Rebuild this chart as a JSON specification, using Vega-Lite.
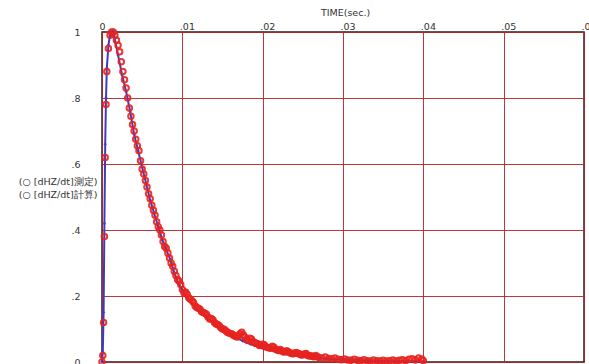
{
  "$schema": "https://vega.github.io/schema/vega-lite/v6.json",
  "width": 482,
  "height": 330,
  "autosize": {"type": "none"},
  "padding": {"left": 102, "top": 32, "right": 5, "bottom": 2},
  "background": "white",
  "config": {
    "view": {"stroke": "#222222", "strokeWidth": 1.5},
    "font": "DejaVu Sans"
  },
  "datasets": {
    "calc": [
      {"t": 0, "v": 0}, {"t": 0.0001, "v": 0.03}, {"t": 0.0002, "v": 0.15}, {"t": 0.0003, "v": 0.42},
      {"t": 0.0004, "v": 0.66}, {"t": 0.0005, "v": 0.8}, {"t": 0.0006, "v": 0.89}, {"t": 0.0008, "v": 0.96},
      {"t": 0.001, "v": 0.99}, {"t": 0.0013, "v": 1.0}, {"t": 0.0015, "v": 0.99}, {"t": 0.002, "v": 0.93},
      {"t": 0.0025, "v": 0.87}, {"t": 0.003, "v": 0.82}, {"t": 0.0035, "v": 0.76}, {"t": 0.004, "v": 0.69},
      {"t": 0.0045, "v": 0.64}, {"t": 0.005, "v": 0.59}, {"t": 0.0055, "v": 0.54}, {"t": 0.006, "v": 0.49},
      {"t": 0.0065, "v": 0.45}, {"t": 0.007, "v": 0.41}, {"t": 0.0075, "v": 0.37}, {"t": 0.008, "v": 0.34},
      {"t": 0.0085, "v": 0.31}, {"t": 0.009, "v": 0.27}, {"t": 0.0095, "v": 0.24}, {"t": 0.01, "v": 0.215},
      {"t": 0.0105, "v": 0.197}, {"t": 0.011, "v": 0.183}, {"t": 0.0115, "v": 0.17}, {"t": 0.012, "v": 0.158},
      {"t": 0.0125, "v": 0.146}, {"t": 0.013, "v": 0.135}, {"t": 0.0135, "v": 0.125}, {"t": 0.014, "v": 0.115},
      {"t": 0.0145, "v": 0.106}, {"t": 0.015, "v": 0.098}, {"t": 0.0155, "v": 0.09}, {"t": 0.016, "v": 0.083},
      {"t": 0.0165, "v": 0.076}, {"t": 0.017, "v": 0.07}, {"t": 0.0175, "v": 0.064}, {"t": 0.018, "v": 0.059},
      {"t": 0.0185, "v": 0.054}, {"t": 0.019, "v": 0.05}, {"t": 0.0195, "v": 0.046}, {"t": 0.02, "v": 0.042},
      {"t": 0.021, "v": 0.036}, {"t": 0.022, "v": 0.03}, {"t": 0.023, "v": 0.025}, {"t": 0.024, "v": 0.021},
      {"t": 0.025, "v": 0.018}, {"t": 0.026, "v": 0.015}, {"t": 0.027, "v": 0.012}, {"t": 0.028, "v": 0.01},
      {"t": 0.029, "v": 0.0085}, {"t": 0.03, "v": 0.0072}, {"t": 0.031, "v": 0.006}, {"t": 0.032, "v": 0.005},
      {"t": 0.033, "v": 0.0043}, {"t": 0.034, "v": 0.0037}, {"t": 0.035, "v": 0.0032}, {"t": 0.036, "v": 0.0028},
      {"t": 0.037, "v": 0.0024}, {"t": 0.038, "v": 0.002}, {"t": 0.039, "v": 0.0018}, {"t": 0.04, "v": 0.0015}
    ],
    "meas": [
      {"t": 0, "v": 0}, {"t": 0.0001, "v": 0.02}, {"t": 0.0002, "v": 0.12}, {"t": 0.0003, "v": 0.38},
      {"t": 0.0004, "v": 0.62}, {"t": 0.0005, "v": 0.78}, {"t": 0.0006, "v": 0.88}, {"t": 0.0008, "v": 0.95},
      {"t": 0.001, "v": 0.99}, {"t": 0.0012, "v": 1.0}, {"t": 0.0014, "v": 1.0}, {"t": 0.0016, "v": 0.99},
      {"t": 0.0018, "v": 0.975}, {"t": 0.002, "v": 0.96}, {"t": 0.0022, "v": 0.94}, {"t": 0.0024, "v": 0.91},
      {"t": 0.0026, "v": 0.88}, {"t": 0.0028, "v": 0.855}, {"t": 0.003, "v": 0.83}, {"t": 0.0032, "v": 0.8},
      {"t": 0.0034, "v": 0.77}, {"t": 0.0036, "v": 0.745}, {"t": 0.0038, "v": 0.72}, {"t": 0.004, "v": 0.7},
      {"t": 0.0042, "v": 0.675}, {"t": 0.0044, "v": 0.655}, {"t": 0.0046, "v": 0.64}, {"t": 0.0048, "v": 0.61},
      {"t": 0.005, "v": 0.585}, {"t": 0.0052, "v": 0.57}, {"t": 0.0054, "v": 0.55}, {"t": 0.0056, "v": 0.53},
      {"t": 0.0058, "v": 0.51}, {"t": 0.006, "v": 0.495}, {"t": 0.0062, "v": 0.475}, {"t": 0.0064, "v": 0.46},
      {"t": 0.0066, "v": 0.445}, {"t": 0.0068, "v": 0.425}, {"t": 0.007, "v": 0.41}, {"t": 0.0072, "v": 0.4},
      {"t": 0.0074, "v": 0.385}, {"t": 0.0076, "v": 0.365}, {"t": 0.0078, "v": 0.35}, {"t": 0.008, "v": 0.345},
      {"t": 0.0082, "v": 0.33}, {"t": 0.0084, "v": 0.315}, {"t": 0.0086, "v": 0.3}, {"t": 0.0088, "v": 0.29},
      {"t": 0.009, "v": 0.275}, {"t": 0.0092, "v": 0.262}, {"t": 0.0094, "v": 0.25}, {"t": 0.0096, "v": 0.245},
      {"t": 0.0098, "v": 0.235}, {"t": 0.01, "v": 0.22}, {"t": 0.0102, "v": 0.21}, {"t": 0.0104, "v": 0.212},
      {"t": 0.0106, "v": 0.205}, {"t": 0.0108, "v": 0.195}, {"t": 0.011, "v": 0.19}, {"t": 0.0112, "v": 0.186},
      {"t": 0.0114, "v": 0.18}, {"t": 0.0116, "v": 0.17}, {"t": 0.0118, "v": 0.165}, {"t": 0.012, "v": 0.163},
      {"t": 0.0122, "v": 0.16}, {"t": 0.0124, "v": 0.152}, {"t": 0.0126, "v": 0.15}, {"t": 0.0128, "v": 0.148},
      {"t": 0.013, "v": 0.145}, {"t": 0.0132, "v": 0.136}, {"t": 0.0134, "v": 0.13}, {"t": 0.0136, "v": 0.132},
      {"t": 0.0138, "v": 0.128}, {"t": 0.014, "v": 0.12}, {"t": 0.0142, "v": 0.115}, {"t": 0.0144, "v": 0.114},
      {"t": 0.0146, "v": 0.11}, {"t": 0.0148, "v": 0.104}, {"t": 0.015, "v": 0.1}, {"t": 0.0152, "v": 0.099},
      {"t": 0.0154, "v": 0.095}, {"t": 0.0156, "v": 0.09}, {"t": 0.0158, "v": 0.088}, {"t": 0.016, "v": 0.086},
      {"t": 0.0162, "v": 0.085}, {"t": 0.0164, "v": 0.08}, {"t": 0.0166, "v": 0.078}, {"t": 0.0168, "v": 0.076},
      {"t": 0.017, "v": 0.08}, {"t": 0.0172, "v": 0.086}, {"t": 0.0174, "v": 0.09}, {"t": 0.0176, "v": 0.082},
      {"t": 0.0178, "v": 0.075}, {"t": 0.018, "v": 0.068}, {"t": 0.0182, "v": 0.065}, {"t": 0.0184, "v": 0.072},
      {"t": 0.0186, "v": 0.07}, {"t": 0.0188, "v": 0.062}, {"t": 0.019, "v": 0.058}, {"t": 0.0192, "v": 0.057},
      {"t": 0.0194, "v": 0.055}, {"t": 0.0196, "v": 0.05}, {"t": 0.0198, "v": 0.05}, {"t": 0.02, "v": 0.054},
      {"t": 0.0202, "v": 0.052}, {"t": 0.0204, "v": 0.046}, {"t": 0.0206, "v": 0.044}, {"t": 0.0208, "v": 0.043},
      {"t": 0.021, "v": 0.042}, {"t": 0.0212, "v": 0.048}, {"t": 0.0214, "v": 0.045}, {"t": 0.0216, "v": 0.039},
      {"t": 0.0218, "v": 0.036}, {"t": 0.022, "v": 0.035}, {"t": 0.0222, "v": 0.038}, {"t": 0.0224, "v": 0.033},
      {"t": 0.0226, "v": 0.03}, {"t": 0.0228, "v": 0.031}, {"t": 0.023, "v": 0.034}, {"t": 0.0232, "v": 0.03},
      {"t": 0.0234, "v": 0.028}, {"t": 0.0236, "v": 0.026}, {"t": 0.0238, "v": 0.025}, {"t": 0.024, "v": 0.027},
      {"t": 0.0242, "v": 0.029}, {"t": 0.0244, "v": 0.026}, {"t": 0.0246, "v": 0.024}, {"t": 0.0248, "v": 0.021},
      {"t": 0.025, "v": 0.022}, {"t": 0.0252, "v": 0.024}, {"t": 0.0254, "v": 0.026}, {"t": 0.0256, "v": 0.02},
      {"t": 0.0258, "v": 0.018}, {"t": 0.026, "v": 0.019}, {"t": 0.0262, "v": 0.017}, {"t": 0.0264, "v": 0.016},
      {"t": 0.0266, "v": 0.02}, {"t": 0.0268, "v": 0.016}, {"t": 0.027, "v": 0.014}, {"t": 0.0274, "v": 0.012},
      {"t": 0.0278, "v": 0.015}, {"t": 0.0282, "v": 0.011}, {"t": 0.0286, "v": 0.01}, {"t": 0.029, "v": 0.012},
      {"t": 0.0294, "v": 0.008}, {"t": 0.0298, "v": 0.007}, {"t": 0.0302, "v": 0.009}, {"t": 0.0306, "v": 0.006},
      {"t": 0.031, "v": 0.005}, {"t": 0.0314, "v": 0.008}, {"t": 0.0318, "v": 0.005}, {"t": 0.0322, "v": 0.004},
      {"t": 0.0326, "v": 0.007}, {"t": 0.033, "v": 0.004}, {"t": 0.0334, "v": 0.003}, {"t": 0.0338, "v": 0.006},
      {"t": 0.0342, "v": 0.004}, {"t": 0.0346, "v": 0.003}, {"t": 0.035, "v": 0.005}, {"t": 0.0354, "v": 0.003},
      {"t": 0.0358, "v": 0.004}, {"t": 0.0362, "v": 0.006}, {"t": 0.0366, "v": 0.003}, {"t": 0.037, "v": 0.005},
      {"t": 0.0374, "v": 0.007}, {"t": 0.0378, "v": 0.004}, {"t": 0.0382, "v": 0.008}, {"t": 0.0386, "v": 0.01},
      {"t": 0.039, "v": 0.006}, {"t": 0.0394, "v": 0.012}, {"t": 0.0398, "v": 0.009}, {"t": 0.04, "v": 0.004}
    ]
  },
  "encoding": {
    "x": {
      "field": "t", "type": "quantitative",
      "scale": {"domain": [0, 0.06], "nice": false, "zero": false},
      "axis": {
        "orient": "top",
        "values": [0, 0.01, 0.02, 0.03, 0.04, 0.05, 0.06],
        "labelExpr": "datum.value == 0 ? '0' : slice(format(datum.value, '.2f'), 1)",
        "labelAlign": "left", "labelOffset": -3,
        "title": "TIME(sec.)",
        "titleFontSize": 9.5, "titleFontWeight": "normal", "titleColor": "#333333",
        "titlePadding": 0, "titleX": 243, "titleY": -15,
        "labelFontSize": 9.5, "labelColor": "#333333", "labelPadding": 1,
        "ticks": false, "domain": false,
        "grid": true, "gridColor": "#b22222", "gridWidth": 1, "gridOpacity": 0.9
      }
    },
    "y": {
      "field": "v", "type": "quantitative",
      "scale": {"domain": [0, 1], "nice": false},
      "axis": {
        "values": [0, 0.2, 0.4, 0.6, 0.8, 1],
        "labelExpr": "datum.value == 0 ? '0' : datum.value == 1 ? '1' : slice(format(datum.value, '.1f'), 1)",
        "labelFontSize": 9.5, "labelColor": "#333333", "labelPadding": 22,
        "ticks": false, "domain": false,
        "grid": true, "gridColor": "#b22222", "gridWidth": 1, "gridOpacity": 0.9,
        "title": ["(○ [dHZ/dt]測定)", "(○ [dHZ/dt]計算)"],
        "titleAngle": 0, "titleAlign": "right", "titleBaseline": "middle",
        "titleX": -5, "titleY": 149, "titleFontSize": 9.5, "titleFontWeight": "normal",
        "titleColor": "#333333", "titleLineHeight": 13
      }
    }
  },
  "layer": [
    {
      "data": {"name": "calc"},
      "mark": {"type": "line", "color": "#3b3bc8", "strokeWidth": 2}
    },
    {
      "data": {"name": "calc"},
      "mark": {"type": "point", "shape": "diamond", "filled": true, "color": "#3b3bc8", "size": 14}
    },
    {
      "data": {"name": "meas"},
      "mark": {"type": "point", "shape": "circle", "filled": false, "color": "#e8231f", "strokeWidth": 2, "size": 30, "opacity": 0.9}
    }
  ]
}
